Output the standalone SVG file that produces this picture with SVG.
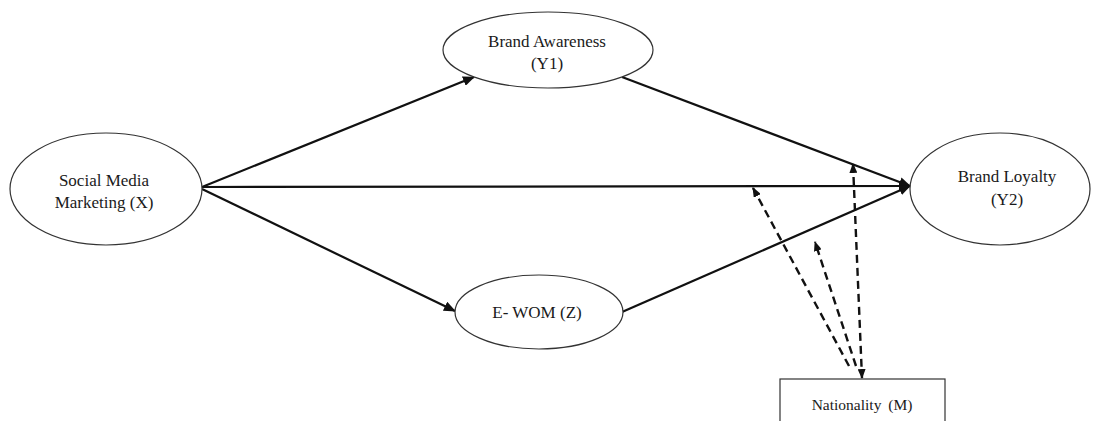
<svg xmlns="http://www.w3.org/2000/svg" width="1094" height="421" viewBox="0 0 1094 421">
<defs>
<marker id="ah" viewBox="0 0 12 10" refX="11" refY="5" markerWidth="12" markerHeight="10" markerUnits="userSpaceOnUse" orient="auto-start-reverse">
<path d="M0,0 L12,5 L0,10 Z" fill="#111"/>
</marker>
<marker id="ahs" viewBox="0 0 10 8" refX="9" refY="4" markerWidth="10" markerHeight="8" markerUnits="userSpaceOnUse" orient="auto-start-reverse">
<path d="M0,0 L10,4 L0,8 Z" fill="#111"/>
</marker>
<style>
.node{fill:#fff;stroke:#333;stroke-width:1.2}
.t{font-family:"Liberation Serif","Times New Roman",serif;font-size:17px;fill:#1a1a1a;text-anchor:middle}
.s{fill:none;stroke:#111;stroke-width:2.2}
.d{fill:none;stroke:#111;stroke-width:2.4;stroke-dasharray:8,5}
</style>
</defs>
<rect width="1094" height="421" fill="#fff"/>
<g id="connectors">
<line class="s" x1="202" y1="187" x2="474" y2="77" marker-end="url(#ah)"/>
<line class="s" x1="202" y1="189" x2="455" y2="311" marker-end="url(#ah)"/>
<line class="s" x1="202" y1="187" x2="910" y2="186" marker-end="url(#ah)"/>
<line class="s" x1="622" y1="77" x2="910" y2="186" marker-end="url(#ah)"/>
<line class="s" x1="622" y1="312" x2="910" y2="186" marker-end="url(#ah)"/>
<line class="d" x1="849" y1="366" x2="753" y2="188" marker-end="url(#ahs)"/>
<line class="d" x1="856" y1="366" x2="815" y2="242" marker-end="url(#ahs)"/>
<line class="d" x1="853" y1="164" x2="862" y2="378" marker-start="url(#ahs)" marker-end="url(#ahs)"/>
</g>
<g id="smm">
<ellipse class="node" cx="106" cy="189" rx="96" ry="56"/>
<text class="t" x="104" y="186">Social Media</text>
<text class="t" x="104" y="208">Marketing (X)</text>
</g>
<g id="ba">
<ellipse class="node" cx="548" cy="50" rx="105" ry="38"/>
<text class="t" x="547" y="47">Brand Awareness</text>
<text class="t" x="547" y="69">(Y1)</text>
</g>
<g id="ewom">
<ellipse class="node" cx="539" cy="312" rx="84" ry="37"/>
<text class="t" x="537" y="318">E- WOM (Z)</text>
</g>
<g id="bl">
<ellipse class="node" cx="1000" cy="189" rx="90" ry="56"/>
<text class="t" x="1007" y="182">Brand Loyalty</text>
<text class="t" x="1007" y="205">(Y2)</text>
</g>
<g id="nat">
<rect class="node" x="780" y="379" width="165" height="50"/>
<text class="t" x="862" y="410" style="font-size:15.5px;word-spacing:3px">Nationality (M)</text>
</g>
</svg>
